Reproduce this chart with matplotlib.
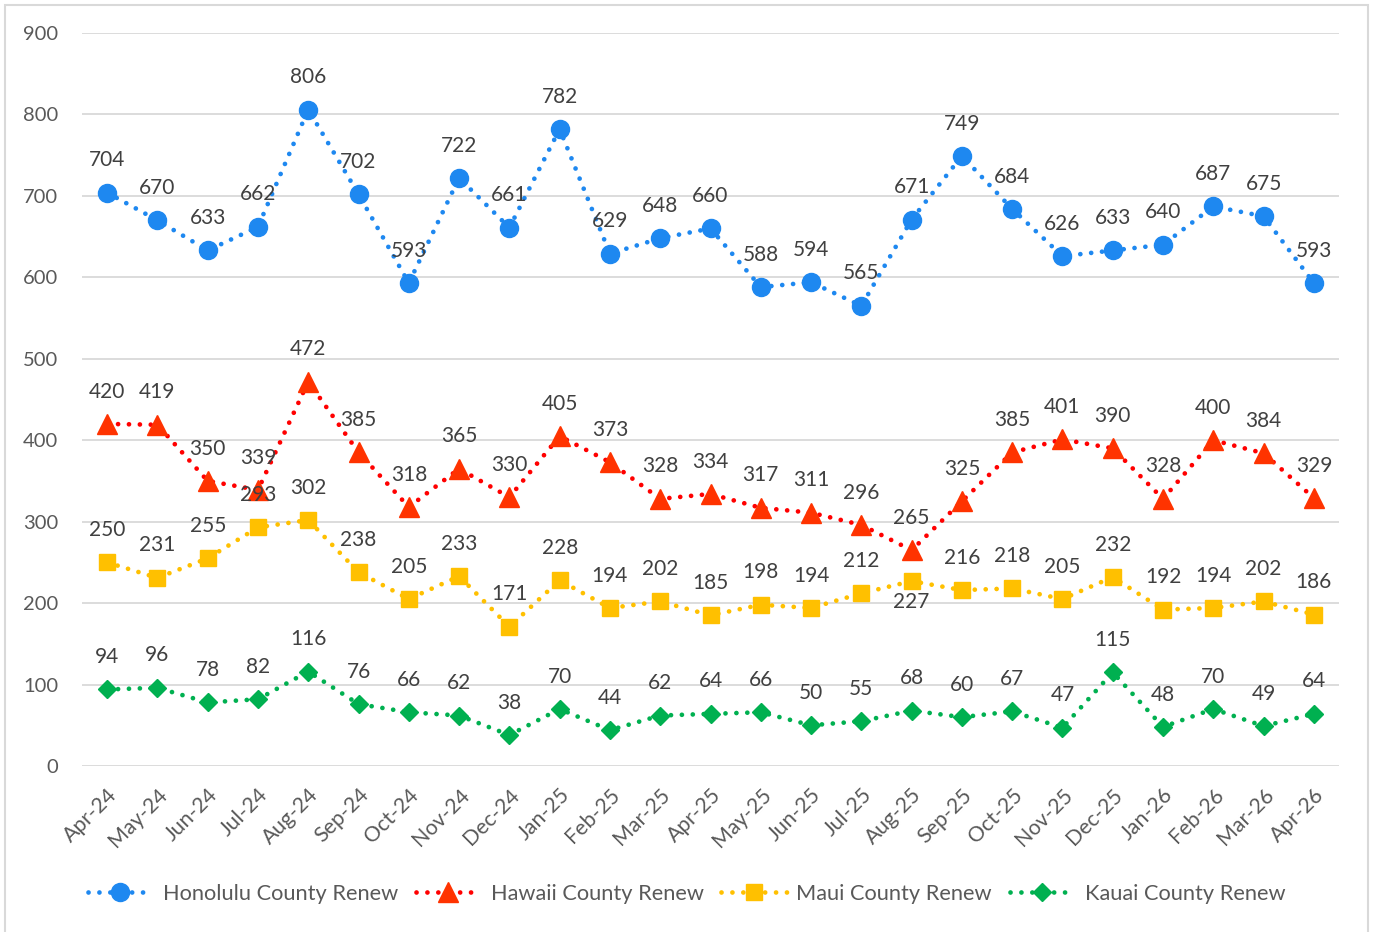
import numpy as np
import matplotlib.pyplot as plt
from matplotlib.patches import Rectangle

# Monthly renewal counts by county
months = ["Apr-24", "May-24", "Jun-24", "Jul-24", "Aug-24", "Sep-24", "Oct-24", "Nov-24",
          "Dec-24", "Jan-25", "Feb-25", "Mar-25", "Apr-25", "May-25", "Jun-25", "Jul-25",
          "Aug-25", "Sep-25", "Oct-25", "Nov-25", "Dec-25", "Jan-26", "Feb-26", "Mar-26", "Apr-26"]

honolulu = [704, 670, 633, 662, 806, 702, 593, 722, 661, 782, 629, 648, 660, 588, 594, 565,
            671, 749, 684, 626, 633, 640, 687, 675, 593]
hawaii = [420, 419, 350, 339, 472, 385, 318, 365, 330, 405, 373, 328, 334, 317, 311, 296,
          265, 325, 385, 401, 390, 328, 400, 384, 329]
maui = [250, 231, 255, 293, 302, 238, 205, 233, 171, 228, 194, 202, 185, 198, 194, 212,
        227, 216, 218, 205, 232, 192, 194, 202, 186]
kauai = [94, 96, 78, 82, 116, 76, 66, 62, 38, 70, 44, 62, 64, 66, 50, 55,
         68, 60, 67, 47, 115, 48, 70, 49, 64]

series_names = ["Honolulu County Renew", "Hawaii County Renew", "Maui County Renew", "Kauai County Renew"]
yticks = [0, 100, 200, 300, 400, 500, 600, 700, 800, 900]

plt.rcParams['font.family'] = ['Lato', 'DejaVu Sans']

# style per series: line colour, marker, marker colour, marker size
styles = [
    ("#1E88F0", "o", "#1E88F0", 13),
    ("#FF0000", "^", "#FF3300", 14),
    ("#FFC000", "s", "#FFC000", 12),
    ("#00B050", "D", "#00B050", 9.5),
]
# labels that sit below the point instead of above: (series index, point index)
below_labels = {(2, 16)}

fig = plt.figure(figsize=(13.73, 9.32), dpi=100)
ax = fig.add_axes([82 / 1373, 1 - 766 / 932, (1339 - 82) / 1373, (766 - 33) / 932])

x = np.arange(len(months))
all_series = [honolulu, hawaii, maui, kauai]
handles = []
for s, (vals, name, (lc, mk, mc, ms)) in enumerate(zip(all_series, series_names, styles)):
    h, = ax.plot(x, vals, color=lc, lw=3.4, linestyle=(0, (0.01, 2.3)),
                 dash_capstyle='round', marker=mk, markersize=ms,
                 markerfacecolor=mc, markeredgecolor=mc, label=name, zorder=3)
    handles.append(h)
    for i, v in enumerate(vals):
        off = -19 if (s, i) in below_labels else 19
        ax.annotate(str(v), (x[i], v), xytext=(0, off), textcoords='offset points',
                    ha='center', va='baseline', fontsize=15, color='#404040', zorder=4)

ax.set_xlim(-0.5, len(months) - 0.5)
ax.set_ylim(0, 900)
ax.set_yticks(yticks)
ax.set_xticks(x)
ax.set_xticklabels(months, rotation=45, ha='right', va='top', rotation_mode='anchor')
ax.tick_params(axis='y', length=0, pad=17, labelsize=14.5, labelcolor='#595959')
ax.tick_params(axis='x', length=0, pad=13.5, labelsize=15.3, labelcolor='#595959')
ax.grid(axis='y', color='#D9D9D9', lw=1.3)
ax.set_axisbelow(True)
for sp in ax.spines.values():
    sp.set_visible(False)

leg = fig.legend(handles=handles, loc='center', bbox_to_anchor=(0.5, 1 - 894 / 932),
                 ncol=4, frameon=False, fontsize=15.7, handlelength=3.0, handletextpad=0.45,
                 columnspacing=0.8, numpoints=1)
for t in leg.get_texts():
    t.set_color('#595959')

# light border around the chart area
fig.patches.append(Rectangle((5 / 1373, -0.01), 1363 / 1373, 1 - 5 / 932 + 0.01,
                             transform=fig.transFigure, fill=False,
                             edgecolor='#D9D9D9', lw=1.5))

fig.savefig("out.png", dpi=100)
